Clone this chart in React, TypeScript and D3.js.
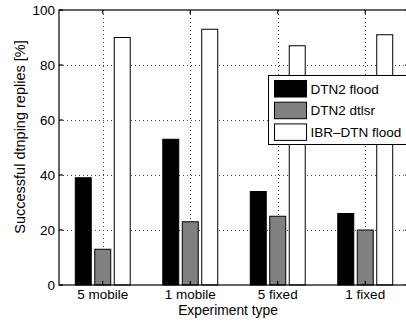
import React from "react";
import * as d3 from "d3";

const categories = ["5 mobile", "1 mobile", "5 fixed", "1 fixed"];
const seriesNames = ["DTN2 flood", "DTN2 dtlsr", "IBR\u2013DTN flood"];
const seriesColors = ["#000000", "#808080", "#ffffff"];
const dtn2Flood = [39, 53, 34, 26];
const dtn2Dtlsr = [13, 23, 25, 20];
const ibrFlood = [90, 93, 87, 91];
const yTicks = [0, 20, 40, 60, 80, 100];

const seriesValues = [dtn2Flood, dtn2Dtlsr, ibrFlood];

const W = 406;
const H = 325;
const margin = { top: 10, right: -3, bottom: 40, left: 59 };
const font = "'Liberation Sans', Arial, Helvetica, sans-serif";

const App = () => {
  const left = margin.left;
  const right = W - margin.right;
  const top = margin.top;
  const bottom = H - margin.bottom;

  // outer band per experiment, inner band per series
  const x = d3.scaleBand<string>()
    .domain(categories)
    .range([left, right])
    .paddingInner(0.332)
    .paddingOuter(0.166);
  const xs = d3.scaleBand<string>()
    .domain(seriesNames)
    .range([0, x.bandwidth()])
    .paddingInner(0.18)
    .paddingOuter(0.09);
  const y = d3.scaleLinear().domain([0, 100]).range([bottom, top]);

  const cx = (c: string) => (x(c) as number) + x.bandwidth() / 2;
  const tickLen = 4;

  return (
    <svg width={W} height={H} style={{ position: "absolute", left: 0, top: 0, background: "#fff" }}
      fontFamily={font}>
      {/* grid */}
      <g stroke="#444" strokeWidth={1} strokeDasharray="1,3">
        {yTicks.filter(t => t > 0 && t < 100).map(t => (
          <line key={"gy" + t} x1={left} x2={right} y1={y(t) + 0.5} y2={y(t) + 0.5} />
        ))}
        {categories.map(c => (
          <line key={"gx" + c} x1={Math.round(cx(c)) + 0.5} x2={Math.round(cx(c)) + 0.5} y1={top} y2={bottom} />
        ))}
      </g>

      {/* bars */}
      {seriesValues.map((vals, si) => (
        <g key={"s" + si} fill={seriesColors[si]} stroke="#000" strokeWidth={1}>
          {vals.map((v, ci) => {
            const bx = (x(categories[ci]) as number) + (xs(seriesNames[si]) as number);
            return (
              <rect key={ci} x={bx} y={y(v)} width={xs.bandwidth()} height={y(0) - y(v)} />
            );
          })}
        </g>
      ))}

      {/* axes box */}
      <g stroke="#000" strokeWidth={1.2} fill="none">
        <rect x={left} y={top} width={right - left} height={bottom - top} />
        {yTicks.map(t => (
          <g key={"ty" + t}>
            <line x1={left} x2={left + tickLen} y1={y(t)} y2={y(t)} />
            <line x1={right} x2={right - tickLen} y1={y(t)} y2={y(t)} />
          </g>
        ))}
        {categories.map(c => (
          <g key={"tx" + c}>
            <line x1={cx(c)} x2={cx(c)} y1={bottom} y2={bottom - tickLen} />
            <line x1={cx(c)} x2={cx(c)} y1={top} y2={top + tickLen} />
          </g>
        ))}
      </g>

      {/* tick labels */}
      <g fontSize={13.5} fill="#000">
        {yTicks.map(t => (
          <text key={"ly" + t} x={left - 4} y={y(t)} dy="0.36em" textAnchor="end">{t}</text>
        ))}
        {categories.map(c => (
          <text key={"lx" + c} x={cx(c)} y={bottom + 13.5} textAnchor="middle">{c}</text>
        ))}
      </g>

      {/* axis titles */}
      <text x={228} y={315} fontSize={13.8} textAnchor="middle">Experiment type</text>
      <text transform={`translate(25,137) rotate(-90)`} fontSize={14.5} textAnchor="middle">
        Successful dtnping replies [%]
      </text>

      {/* legend */}
      <g>
        <rect x={268.5} y={75.5} width={150} height={69} fill="#fff" stroke="#000" strokeWidth={1} />
        {seriesNames.map((s, i) => (
          <g key={"lg" + i} transform={`translate(274.5,${80.5 + i * 21.7})`}>
            <rect width={32} height={16.5} fill={seriesColors[i]} stroke="#000" strokeWidth={1} />
            <text x={36} y={13} fontSize={13.5}>{s}</text>
          </g>
        ))}
      </g>
    </svg>
  );
};

export default App;
